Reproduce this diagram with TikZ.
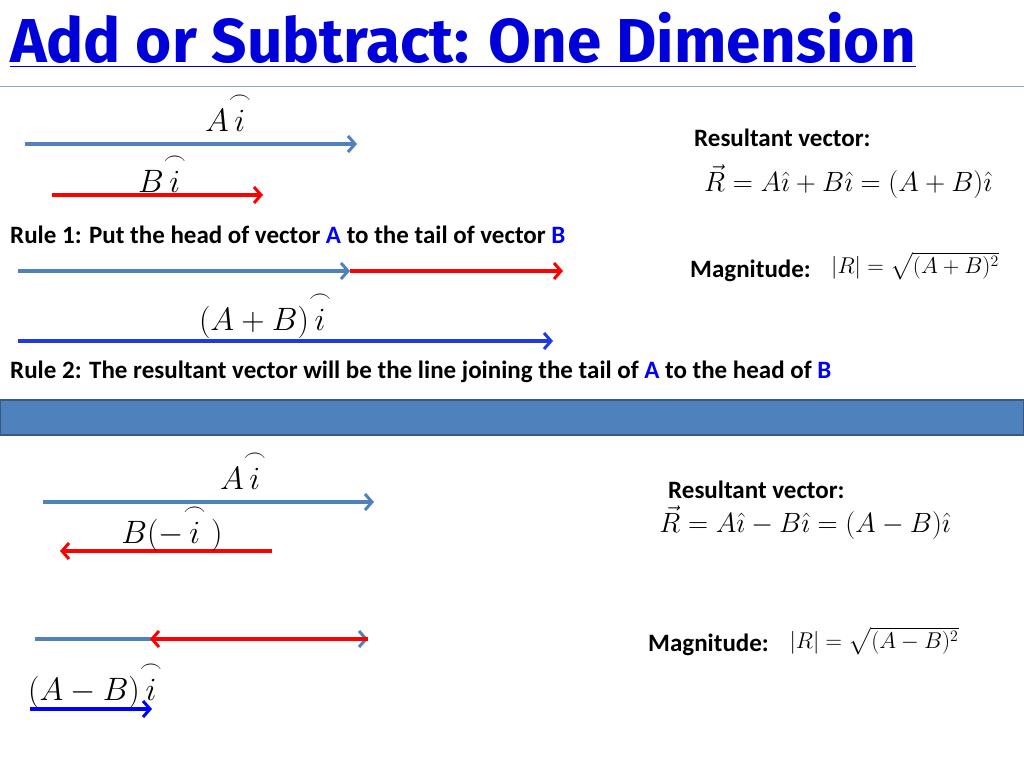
\documentclass[tikz,border=0pt]{standalone}
\usepackage{fontspec}
\usepackage{amsmath}
\setmainfont{Carlito}
\newfontfamily\titlefont{Fira Sans}
\usetikzlibrary{arrows.meta}
\definecolor{vecblue}{RGB}{79,129,189}
\definecolor{vecred}{RGB}{255,0,0}
\definecolor{resblue}{RGB}{20,40,235}
\definecolor{ruleblue}{RGB}{0,0,255}
\tikzset{
  vec/.style={line width=3.5pt,-{Straight Barb[length=7pt,width=16pt,line width=3pt]}},
  lbl/.style={font=\fontsize{24}{28}\selectfont,scale=1.3},
  ruletext/.style={font=\fontsize{25}{28}\selectfont\bfseries,anchor=west,inner sep=0pt},
  eqn/.style={font=\fontsize{24}{28}\selectfont,scale=1.12},
  mageqn/.style={font=\fontsize{20}{24}\selectfont,scale=1.1},
}
\newcommand{\hi}{\overset{\frown}{i}}
\begin{document}
\begin{tikzpicture}[x=1pt,y=-1pt]
\useasboundingbox (0,0) rectangle (1024,768);
% title
\node[anchor=west,inner sep=0pt,text=blue!85!black,font=\fontsize{62}{66}\selectfont\titlefont\bfseries] (title) at (10,40) {\underline{Add or Subtract: One Dimension}};
\draw[vecblue!70,line width=1pt] (0,86) -- (1024,86);
% addition
\coordinate (a1s) at (25,144); \coordinate (a1e) at (357,144);
\coordinate (b1s) at (52,195); \coordinate (b1e) at (263,195);
\draw[vec,vecblue] (a1s) -- (a1e);
\draw[vec,vecred] (b1s) -- (b1e);
\node[lbl] (la1) at (228,112) {$A\hi$};
\node[lbl] (lb1) at (162,173) {$B\hi$};
\node[ruletext] (rule1) at (10,235) {Rule 1: Put the head of vector \textcolor{ruleblue}{A} to the tail of vector \textcolor{ruleblue}{B}};
\coordinate (a2s) at (18,271); \coordinate (a2e) at (350,271);
\coordinate (b2e) at (563,271);
\draw[vec,vecblue] (a2s) -- (a2e);
\draw[vec,vecred] (a2e) -- (b2e);
\node[lbl] (lsum) at (265,315) {$(A+B)\hi$};
\coordinate (s1s) at (18,341); \coordinate (s1e) at (553,341);
\draw[vec,resblue!80!vecblue] (s1s) -- (s1e);
\node[ruletext] (rule2) at (10,372) {Rule 2: The resultant vector will be the line joining the tail of \textcolor{ruleblue}{A} to the head of \textcolor{ruleblue}{B}};
\node[ruletext] (res1) at (694,138) {Resultant vector:};
\node[eqn] (eq1) at (848,182) {$\vec R = A\hat\imath + B\hat\imath = (A+B)\hat\imath$};
\node[ruletext] (mag1) at (690,271) {Magnitude:};
\node[mageqn] (f1) at (915,266) {$\left|R\right| = \sqrt{(A+B)^2}$};
% separator
\draw[fill=vecblue,draw=vecblue!70!black,line width=1.5pt] (0,400) rectangle (1024,435);
% subtraction
\coordinate (a3s) at (43,502); \coordinate (a3e) at (374,502);
\coordinate (b3s) at (272,551); \coordinate (b3e) at (60,551);
\draw[vec,vecblue] (a3s) -- (a3e);
\draw[vec,vecred] (b3s) -- (b3e);
\node[lbl] (la3) at (243,470) {$A\hi$};
\node[lbl] (lb3) at (172,528) {$B(-\hi\,)$};
\coordinate (a4s) at (35,639); \coordinate (a4e) at (368,639);
\coordinate (b4e) at (150,639);
\draw[vec,vecblue] (a4s) -- (a4e);
\draw[vec,vecred] (a4e) -- (b4e);
\node[lbl] (ldiff) at (95,685) {$(A-B)\hi$};
\coordinate (s2s) at (30,709); \coordinate (s2e) at (152,709);
\draw[vec,ruleblue] (s2s) -- (s2e);
\node[ruletext] (res2) at (668,490) {Resultant vector:};
\node[eqn] (eq2) at (805,523) {$\vec R = A\hat\imath - B\hat\imath = (A-B)\hat\imath$};
\node[ruletext] (mag2) at (648,645) {Magnitude:};
\node[mageqn] (f2) at (874,641) {$\left|R\right| = \sqrt{(A-B)^2}$};
\end{tikzpicture}
\end{document}
